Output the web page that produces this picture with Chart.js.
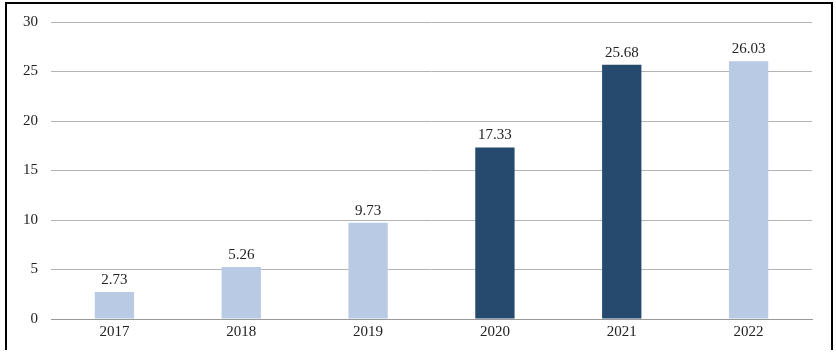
<!DOCTYPE html>
<html>
<head>
<meta charset="utf-8">
<script src="https://cdn.jsdelivr.net/npm/chart.js@4/dist/chart.umd.min.js"></script>
<style>
  html, body { margin: 0; padding: 0; background: #fff; }
  #wrap { position: relative; width: 836px; height: 356px; }
  #frame { position: absolute; left: 5px; top: 2px; width: 824px; height: 346px;
           border: 2px solid #000; border-bottom: none; pointer-events: none; }
  canvas { display: block; }
</style>
</head>
<body>
<div id="wrap">
  <canvas id="c" width="836" height="356"></canvas>
  <div id="frame"></div>
</div>
<script>
const categories = ['2017', '2018', '2019', '2020', '2021', '2022'];
const values = [2.73, 5.26, 9.73, 17.33, 25.68, 26.03];
const valueLabels = ['2.73', '5.26', '9.73', '17.33', '25.68', '26.03'];
const yTicks = [0, 5, 10, 15, 20, 25, 30];
const LIGHT = '#b9cae4';
const DARK = '#254a6e';
const barColors = ['light', 'light', 'light', 'dark', 'dark', 'light'].map(k => k === 'dark' ? DARK : LIGHT);

const FONT = { family: '"Liberation Serif", "Times New Roman", serif', size: 15 };

const labelPlugin = {
  id: 'valueLabels',
  afterDatasetsDraw(chart) {
    const ctx = chart.ctx;
    const meta = chart.getDatasetMeta(0);
    ctx.save();
    ctx.font = FONT.size + 'px ' + FONT.family;
    ctx.fillStyle = '#222';
    ctx.textAlign = 'center';
    ctx.textBaseline = 'alphabetic';
    meta.data.forEach((bar, i) => {
      ctx.fillText(valueLabels[i], bar.x, bar.y - 8);
    });
    ctx.restore();
  }
};

new Chart(document.getElementById('c'), {
  type: 'bar',
  data: {
    labels: categories,
    datasets: [{
      data: values,
      backgroundColor: barColors,
      borderWidth: 0,
      barPercentage: 0.31,
      categoryPercentage: 1.0
    }]
  },
  options: {
    responsive: false,
    animation: false,
    events: [],
    layout: { padding: { left: 0, right: 24, top: 20, bottom: 0 } },
    plugins: { legend: { display: false }, tooltip: { enabled: false } },
    scales: {
      x: {
        grid: { display: false, drawTicks: false },
        border: { display: true, color: '#999', width: 1 },
        ticks: { color: '#222', font: FONT, padding: 4, maxRotation: 0 },
        afterFit(scale) { scale.height = 37; }
      },
      y: {
        min: 0, max: 30,
        afterBuildTicks(scale) { scale.ticks = yTicks.map(v => ({ value: v })); },
        grid: { color: '#b4b4b4', lineWidth: 1, drawTicks: false },
        border: { display: false },
        ticks: { color: '#222', font: FONT, padding: 13 },
        afterFit(scale) { scale.width = 51; }
      }
    }
  },
  plugins: [labelPlugin]
});
</script>
</body>
</html>
